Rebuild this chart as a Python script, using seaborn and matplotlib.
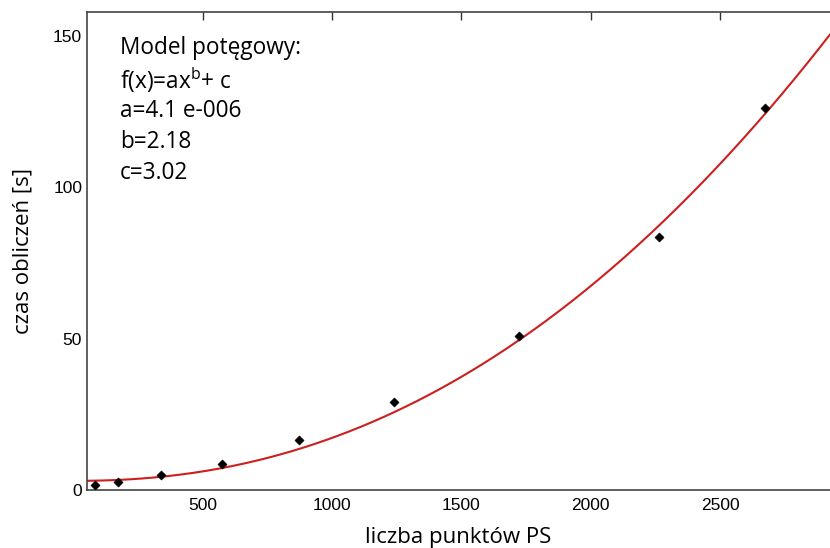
import numpy as np
import pandas as pd
import matplotlib
matplotlib.use("Agg")
import matplotlib.pyplot as plt
import seaborn as sns

# data
liczba_punktow = [83, 172, 337, 575, 873, 1240, 1722, 2263, 2673]
czas_obliczen = [1.6, 2.7, 4.85, 8.6, 16.6, 29.2, 51.0, 83.7, 126.4]

# model parameters shown on the chart
a_par = 4.1e-6
b_par = 2.18
c_par = 3.02

x_ticks = [500, 1000, 1500, 2000, 2500]
y_ticks = [0, 50, 100, 150]

sns.set_theme(style="white")
plt.rcParams['font.family'] = ['Liberation Sans', 'DejaVu Sans']
plt.rcParams['mathtext.fontset'] = 'custom'
plt.rcParams['mathtext.rm'] = 'Open Sans'
plt.rcParams['text.color'] = 'black'
plt.rcParams['axes.labelcolor'] = 'black'

fig = plt.figure(figsize=(8.3, 5.48), dpi=100)
ax = fig.add_axes([87/830, 1 - 490/548, 1 - 87/830, (490 - 12)/548])

xmin, xmax = 52, 2925
xx = np.linspace(xmin, xmax, 400)
fit = pd.DataFrame({"x": xx, "y": a_par * xx ** b_par + c_par})
pts = pd.DataFrame({"x": liczba_punktow, "y": czas_obliczen})

sns.lineplot(data=fit, x="x", y="y", ax=ax, color="#cc1f1f", linewidth=1.5)
sns.scatterplot(data=pts, x="x", y="y", ax=ax, marker="D", s=22, color="black",
                edgecolor="black", zorder=3)

ax.set_xlim(xmin, xmax)
ax.set_ylim(0, 158)
ax.set_xticks(x_ticks)
ax.set_yticks(y_ticks)
ax.tick_params(axis="both", direction="in", length=6, width=1, colors="#333333",
               labelsize=12.5, top=True, right=False, labelcolor="black")
ax.tick_params(axis="x", pad=6)
for s in ["left", "bottom", "top"]:
    ax.spines[s].set_color("#444444")
    ax.spines[s].set_linewidth(1.2)
ax.spines["right"].set_visible(False)

ax.set_xlabel("liczba punktów PS", family=["Open Sans", "DejaVu Sans"], fontsize=16,
              labelpad=10)
ax.set_ylabel("czas obliczeń [s]", family=["Open Sans", "DejaVu Sans"], fontsize=16,
              labelpad=14)

lines = ["Model potęgowy:", "f(x)=ax$^{\\mathrm{b}}$+ c", "a=4.1 e-006", "b=2.18", "c=3.02"]
ys = [48, 80, 111, 142, 173]
for t, yp in zip(lines, ys):
    fig.text(120/830, 1 - yp/548, t, family=["Open Sans", "DejaVu Sans"], fontsize=16.3,
             va="center", ha="left")

fig.savefig("out.png", dpi=100)
